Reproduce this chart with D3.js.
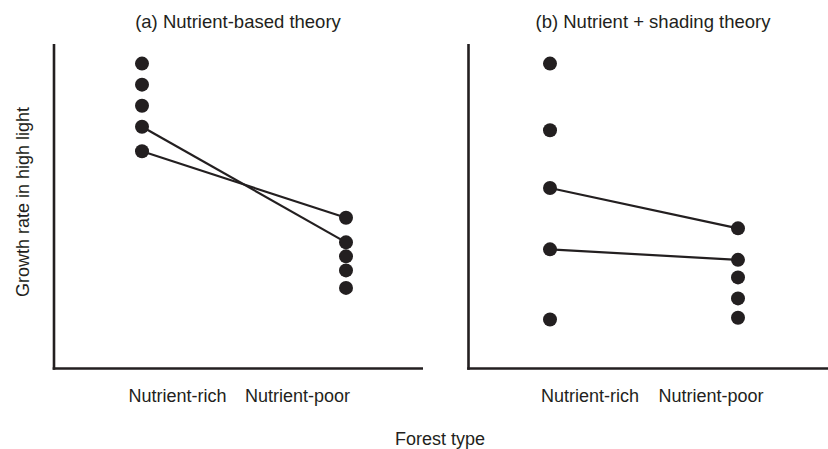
<!DOCTYPE html>
<html><head><meta charset="utf-8">
<script src="https://cdn.jsdelivr.net/npm/d3@7"></script>
<style>body{margin:0;background:#fff}text{font-family:"Liberation Sans",Arial,sans-serif;fill:#231f20}</style>
</head><body><svg id="c" width="828" height="449"></svg>
<script>
const categories = ["Nutrient-rich", "Nutrient-poor"];
const panelTitles = ["(a) Nutrient-based theory", "(b) Nutrient + shading theory"];
const aRich = [8.7, 8.1, 7.5, 6.9, 6.2];
const aPoor = [4.3, 3.6, 3.2, 2.8, 2.3];
const bRich = [8.7, 6.8, 5.15, 3.4, 1.4];
const bPoor = [4.0, 3.1, 2.6, 2.0, 1.45];
const aLinks = [[6.9, 3.6], [6.2, 4.3]];
const bLinks = [[5.15, 4.0], [3.4, 3.1]];
const yDomain = [0, 9.26];
const xTitle = "Forest type";
const yTitle = "Growth rate in high light";

const svg = d3.select("#c");
const ink = "#231f20";
const y = d3.scaleLinear().domain(yDomain).range([368.5, 44]);

const panels = [
  {title: panelTitles[0], rich: aRich, poor: aPoor, links: aLinks, axisX: [54, 423], dotX: [142, 346], labX: [177.5, 297.5], titleX: 238},
  {title: panelTitles[1], rich: bRich, poor: bPoor, links: bLinks, axisX: [468.5, 828], dotX: [550, 738], labX: [590, 711], titleX: 653}
];

panels.forEach(p => {
  const x = d3.scalePoint().domain(categories).range(p.dotX);
  const xl = d3.scalePoint().domain(categories).range(p.labX);
  const g = svg.append("g");
  g.append("line").attr("x1", p.axisX[0]).attr("x2", p.axisX[0]).attr("y1", y(yDomain[1])).attr("y2", y(0)+1.3)
    .attr("stroke", ink).attr("stroke-width", 2.6);
  g.append("line").attr("x1", p.axisX[0]-1.3).attr("x2", p.axisX[1]).attr("y1", y(0)).attr("y2", y(0))
    .attr("stroke", ink).attr("stroke-width", 2.6);
  g.selectAll(".lk").data(p.links).join("line")
    .attr("x1", x(categories[0])).attr("x2", x(categories[1]))
    .attr("y1", d => y(d[0])).attr("y2", d => y(d[1]))
    .attr("stroke", ink).attr("stroke-width", 2.2);
  const pts = p.rich.map(v => [categories[0], v]).concat(p.poor.map(v => [categories[1], v]));
  g.selectAll("circle").data(pts).join("circle")
    .attr("cx", d => x(d[0])).attr("cy", d => y(d[1])).attr("r", 7).attr("fill", ink);
  g.selectAll(".cl").data(categories).join("text")
    .attr("x", d => xl(d)).attr("y", 401.5).attr("text-anchor", "middle")
    .attr("font-size", 18).text(d => d);
  g.append("text").attr("x", p.titleX).attr("y", 27.5).attr("text-anchor", "middle")
    .attr("font-size", 18.5).text(p.title);
});

svg.append("text").attr("x", 440).attr("y", 445).attr("text-anchor", "middle").attr("font-size", 18).text(xTitle);
svg.append("text").attr("transform", "translate(29,202) rotate(-90)").attr("text-anchor", "middle").attr("font-size", 18).text(yTitle);
</script></body></html>
